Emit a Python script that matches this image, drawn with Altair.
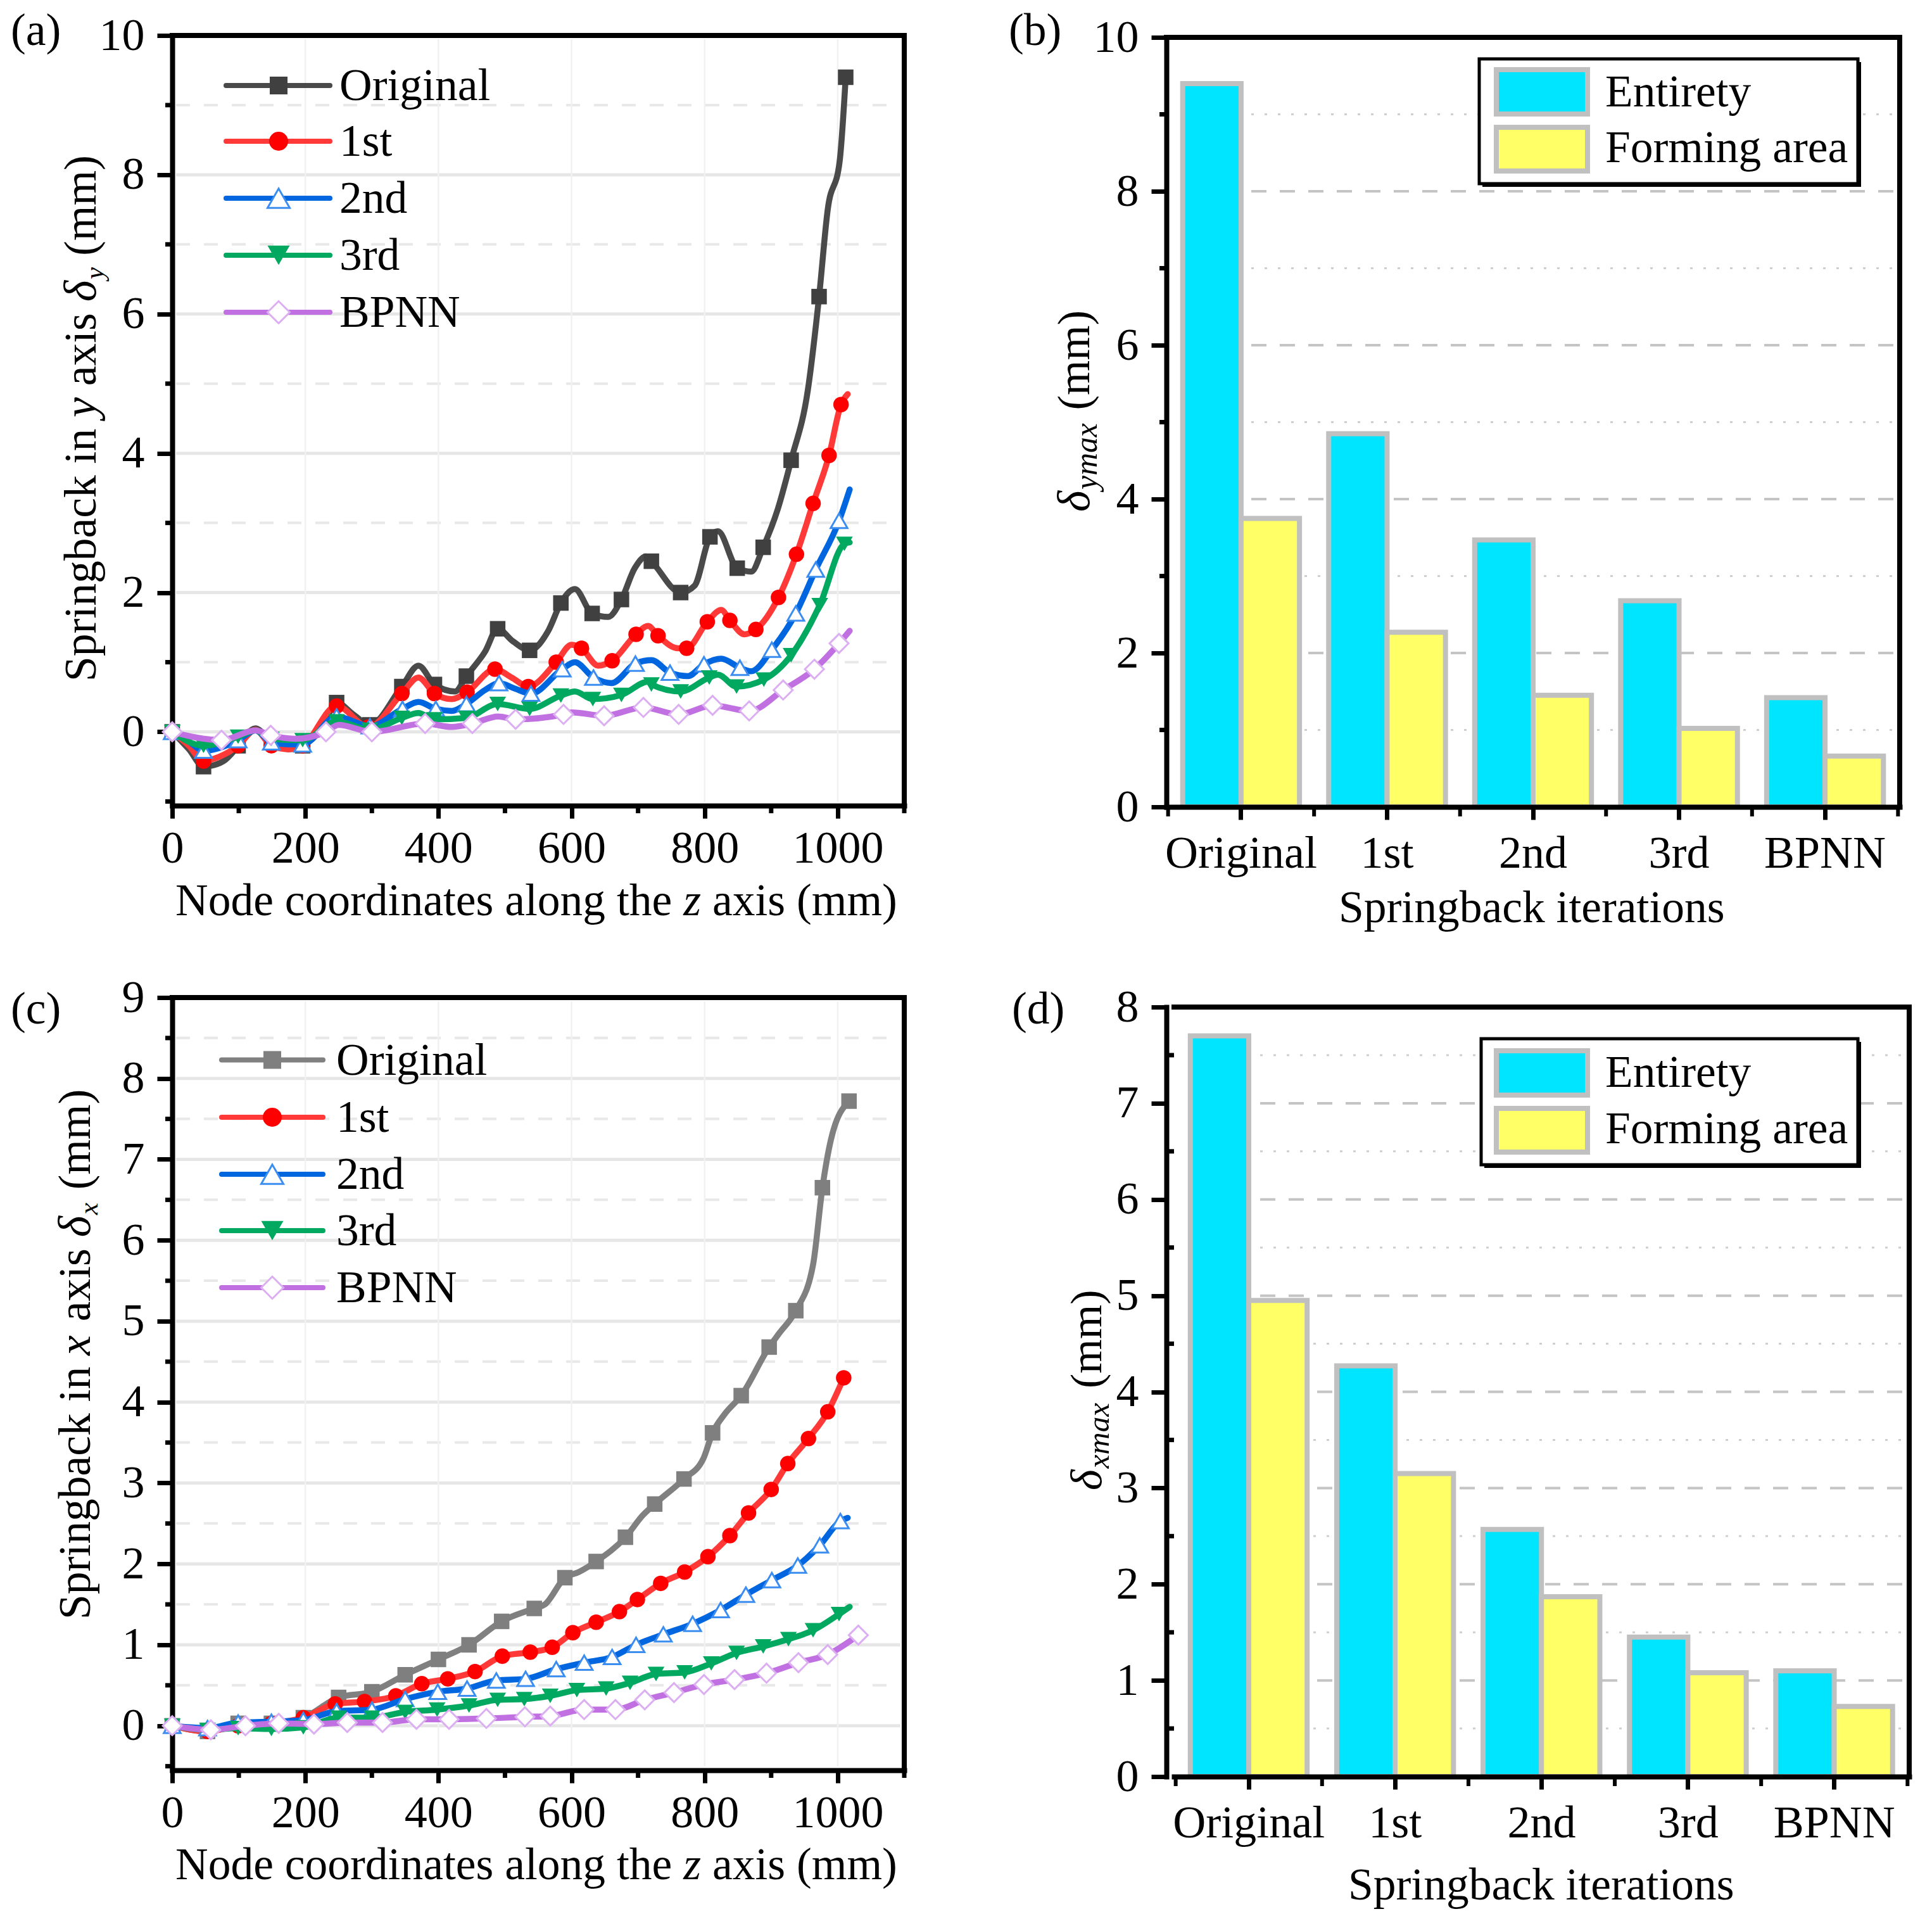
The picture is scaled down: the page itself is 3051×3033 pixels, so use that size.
import altair as alt
import pandas as pd

# ---------- panel (a) : springback in y ----------
A0_MX = [0,47,99,149,196,247,297,345,394,442,489,537,584,631,675,720,764,808,849,888,930,972,1012]
A0_MY = [0,-.5,-.2,-.15,-.2,.42,.1,.65,.68,.8,1.48,1.17,1.85,1.7,1.9,2.45,2.0,2.8,2.35,2.65,3.9,6.25,9.4]
A0_CX = [25,62,80,110,125,175,225,272,370,425,470,512,565,605,655,695,712,785,820,870,910,955,985,1003]
A0_CY = [-.25,-.48,-.4,-.05,.05,-.25,.05,.25,.95,.58,1.15,1.3,1.45,2.05,1.65,2.35,2.52,2.1,2.88,2.3,3.2,4.9,7.5,8.2]
A1_MX = [0,47,99,149,196,247,295,345,394,443,485,535,577,615,661,697,730,773,804,838,877,911,938,963,987,1005]
A1_MY = [0,-.42,-.2,-.2,-.2,.37,.07,.55,.55,.57,.9,.65,1.0,1.2,1.02,1.4,1.38,1.2,1.58,1.6,1.47,1.93,2.55,3.28,3.97,4.7]
A1_CX = [25,70,125,175,370,420,510,600,640,715,760,825,860,1015]
A1_CY = [-.2,-.36,.03,-.25,.78,.47,.78,1.25,.95,1.52,1.2,1.75,1.4,4.85]
A2_MX = [0,47,99,149,196,247,297,346,396,442,491,539,586,633,696,748,799,853,901,937,967,1002]
A2_MY = [0,-.27,-.12,-.15,-.18,.22,.08,.33,.33,.4,.7,.55,.9,.78,.98,.85,.97,.92,1.18,1.7,2.33,3.03]
A2_CX = [25,125,175,370,420,470,515,605,660,720,775,825,870,1018]
A2_CY = [-.14,.02,-.18,.43,.3,.6,.62,1.0,.7,1.03,.8,1.05,.87,3.48]
A3_MX = [0,47,99,149,196,247,297,345,394,442,489,537,584,632,675,720,764,807,848,889,930,973,1010]
A3_MY = [0,-.2,-.07,-.1,-.12,.15,.03,.2,.18,.2,.4,.33,.52,.47,.53,.68,.58,.78,.65,.75,1.1,1.82,2.7]
A3_CX = [125,370,605,715,820,1018]
A3_CY = [.02,.27,.58,.72,.82,2.72]
A4_MX = [0,74,148,231,300,380,451,516,588,649,708,761,812,867,918,965,1002]
A4_MY = [0,-.12,-.05,0,0,.12,.12,.18,.25,.23,.35,.25,.38,.3,.6,.9,1.27]
A4_CX = [35,125,185,250,420,490,600,1018]
A4_CY = [-.08,.02,-.1,.1,.07,.22,.28,1.45]

# ---------- panel (c) : springback in x ----------
C0_MX = [0,53,99,149,197,250,300,350,400,446,495,544,590,637,681,725,769,812,855,897,937,977,1017]
C0_MY = [0,-.07,.03,.03,.1,.35,.42,.63,.82,1.0,1.29,1.45,1.83,2.03,2.33,2.74,3.05,3.62,4.08,4.68,5.13,6.65,7.72]
C0_CX = [560,611,707,798,830,912,963,990]
C0_CY = [1.5,1.9,2.6,3.3,3.85,4.85,5.7,7.25]
C1_MX = [0,53,99,149,197,245,289,336,375,414,455,496,538,571,602,637,672,699,734,770,805,838,866,900,925,956,985,1009]
C1_MY = [0,-.07,0,.03,.1,.27,.3,.37,.52,.58,.67,.86,.91,.97,1.15,1.28,1.41,1.56,1.76,1.9,2.09,2.35,2.63,2.92,3.24,3.55,3.88,4.3]
C2_MX = [0,53,99,149,197,247,300,350,399,443,487,531,577,619,661,697,738,782,824,862,901,940,973,1004]
C2_MY = [0,-.03,.04,.05,.07,.18,.2,.33,.42,.46,.56,.58,.7,.78,.85,1.0,1.13,1.26,1.43,1.62,1.8,1.98,2.23,2.53]
C2_CX = [1015]
C2_CY = [2.57]
C3_MX = [0,53,99,149,197,250,300,350,398,446,489,529,568,608,652,688,727,770,810,848,888,926,963,1002]
C3_MY = [0,-.05,-.03,-.04,-.02,.1,.1,.17,.2,.25,.32,.33,.37,.44,.46,.53,.64,.66,.77,.9,.98,1.07,1.18,1.38]
C3_CX = [1018]
C3_CY = [1.47]
C4_MX = [0,58,110,160,213,263,316,367,416,472,530,568,619,666,710,754,799,845,893,941,985,1031]
C4_MY = [0,-.05,0,.03,.02,.04,.04,.08,.08,.09,.11,.12,.2,.2,.32,.41,.51,.57,.65,.78,.88,1.12]

# ---------- panels (b) and (d) : maxima ----------
ITERATIONS = ["Original", "1st", "2nd", "3rd", "BPNN"]
AREAS = ["Entirety", "Forming area"]
B_ENTIRE = [9.4, 4.85, 3.47, 2.68, 1.42]
B_FORMING = [3.75, 2.27, 1.45, 1.02, 0.66]
D_ENTIRE = [7.7, 4.27, 2.57, 1.45, 1.1]
D_FORMING = [4.95, 3.15, 1.87, 1.08, 0.73]

SERIES = ["Original", "1st", "2nd", "3rd", "BPNN"]
F = "Liberation Serif"
TICK, TITLE, LEG = 72, 71.5, 71.5
PI, PO = 0.2, 0.1115

W_TIMES = {" ":250,"S":556,"p":500,"r":333,"i":278,"n":500,"g":500,"b":500,"a":444,"c":444,"k":500,
           "y":444,"x":500,"s":389,"m":778,"(":333,")":333,"N":722,"o":500,"d":500,"e":444,"t":278,
           "l":278,"h":500,"z":389,"δ":494}


def tw(s, size):
    return sum(W_TIMES.get(c, 500) for c in s) * size / 1000


def blank():
    return pd.DataFrame({"a": [0]})


def txt(s, x, y, size=LEG, italic=False, align="left", angle=0):
    return alt.Chart(pd.DataFrame({"t": [s]})).mark_text(
        font=F, fontSize=size, fontStyle="italic" if italic else "normal", align=align,
        baseline="alphabetic", angle=angle, color="black"
    ).encode(text="t:N", x=alt.value(x), y=alt.value(y))


def runs(pieces, x, y, size, vertical=False):
    """pieces: (text, italic, scale, baseline shift)."""
    out, pos = [], 0
    for s, it, sc, sh in pieces:
        fs = size * sc
        lead = len(s) - len(s.lstrip(" "))
        body = s.strip(" ")
        if body:
            p = pos + tw(" " * lead, fs)
            if vertical:
                out.append(txt(body, x + sh, y - p, fs, it, angle=270))
            else:
                out.append(txt(body, x + p, y + sh, fs, it))
        pos += tw(s, fs)
    return out


def hline(x1, x2, y, color="black", w=8, dash=None, cap="butt"):
    kw = {"strokeDash": dash} if dash else {}
    return alt.Chart(blank()).mark_rule(color=color, strokeWidth=w, strokeCap=cap, **kw).encode(
        x=alt.value(x1), x2=alt.value(x2), y=alt.value(y))


def vline(x, y1, y2, color="black", w=8):
    return alt.Chart(blank()).mark_rule(color=color, strokeWidth=w, strokeCap="square").encode(
        x=alt.value(x), y=alt.value(y1), y2=alt.value(y2))


def rect(x1, x2, y1, y2, fill, stroke=None, sw=0):
    kw = {"stroke": stroke, "strokeWidth": sw} if stroke else {}
    return alt.Chart(blank()).mark_rect(fill=fill, **kw).encode(
        x=alt.value(x1), x2=alt.value(x2), y=alt.value(y1), y2=alt.value(y2))


def line_panel(series, colors, markers, w, h, ydom, ymaj, ymin, legx, legy, xtitle, ytitle, label):
    xs = alt.Scale(domain=[0, 1100], nice=False)
    ys = alt.Scale(domain=ydom, nice=False)
    xax = alt.Axis(title=None, values=[0, 200, 400, 600, 800, 1000], grid=False, labelFont=F, labelFontSize=TICK,
                   labelColor="black", tickSize=20, tickWidth=7, tickColor="black", domainColor="black",
                   domainWidth=8, domainCap="square", labelPadding=12, format="d", labelOverlap=False, labelFlush=False,
                   labelLimit=500)
    yax = alt.Axis(title=None, values=ymaj, grid=False, labelFont=F, labelFontSize=TICK, labelColor="black",
                   tickSize=24, tickWidth=7, tickColor="black", domainColor="black", domainWidth=8,
                   domainCap="square", labelPadding=20, format="d", labelOverlap=False, labelFlush=False,
                   labelLimit=500)
    L = []
    for v in ymaj:
        L.append(alt.Chart(pd.DataFrame({"v": [v]})).mark_rule(color="#e6e6e6", strokeWidth=5).encode(
            y=alt.Y("v:Q", scale=ys, axis=yax), x=alt.value(6), x2=alt.value(w - 6)))
    inner = [v for v in ymin if v > ydom[0] + 0.1]
    L.append(alt.Chart(pd.DataFrame({"v": inner})).mark_rule(color="#e8e8e8", strokeWidth=4, strokeDash=[22, 22]).encode(
        y=alt.Y("v:Q", scale=ys, axis=yax), x=alt.value(6), x2=alt.value(w - 6)))
    L.append(alt.Chart(pd.DataFrame({"v": [200, 400, 600, 800, 1000]})).mark_rule(color="#f1f1f1", strokeWidth=2.5).encode(
        x=alt.X("v:Q", scale=xs, axis=xax), y=alt.value(6), y2=alt.value(h - 6)))
    # minor ticks
    L.append(alt.Chart(pd.DataFrame({"v": ymin})).mark_rule(color="black", strokeWidth=7).encode(
        y=alt.Y("v:Q", scale=ys, axis=yax), x=alt.value(-11), x2=alt.value(0)))
    L.append(alt.Chart(pd.DataFrame({"v": [100, 300, 500, 700, 900, 1100]})).mark_rule(color="black", strokeWidth=7).encode(
        x=alt.X("v:Q", scale=xs, axis=xax), y=alt.value(h), y2=alt.value(h + 12)))
    L.append(hline(-4, w + 4, 0))
    L.append(vline(w, 0, h))
    for name, (mx, my, cx, cy), col, mk in zip(SERIES, series, colors, markers):
        pts = sorted(zip(mx + cx, my + cy))
        ldf = pd.DataFrame(pts, columns=["x", "y"])
        mdf = pd.DataFrame({"x": mx, "y": my})
        L.append(alt.Chart(ldf).mark_line(color=col, strokeWidth=9.5, interpolate="monotone", strokeCap="round", strokeJoin="round").encode(
            x=alt.X("x:Q", scale=xs, axis=xax),
            y=alt.Y("y:Q", scale=ys, axis=yax)))
        L.append(alt.Chart(mdf).mark_point(shape=mk["shape"], size=mk["size"], filled=True, fill=mk["fill"],
                                           stroke=mk["stroke"], strokeWidth=mk["sw"], opacity=1).encode(
            x=alt.X("x:Q", scale=xs, axis=xax), y=alt.Y("y:Q", scale=ys, axis=yax)))
    # legend
    for name, col, mk, yy in zip(SERIES, colors, markers, legy):
        L.append(hline(legx[0] + 4, legx[1] - 4, yy, col, 8, cap="round"))
        L.append(alt.Chart(blank()).mark_point(shape=mk["shape"], size=mk["lsize"], filled=True, fill=mk["fill"],
                                               stroke=mk["stroke"], strokeWidth=mk["sw"], opacity=1).encode(
            x=alt.value(legx[2]), y=alt.value(yy)))
        L.append(txt(name, legx[3], yy + 23, LEG))
    L += xtitle + ytitle + [label]
    return alt.layer(*L).properties(width=w, height=h)


def bar_panel(ent, form, w, h, xr, yr, ydom, ymaj, ymin, gx, box, swatch, texty, xtitle, ytitle, label):
    ys = alt.Scale(domain=ydom, nice=False, range=yr)
    xs = alt.Scale(domain=ITERATIONS, range=xr, paddingInner=PI, paddingOuter=PO)
    xax = alt.Axis(title=None, grid=False, labelFont=F, labelFontSize=TICK, labelColor="black", labelAngle=0, tickSize=20,
                   tickWidth=7, tickColor="black", domainColor="black", domainWidth=8, domainCap="square", labelPadding=18,
                   labelOverlap=False, labelFlush=False, zindex=1, labelLimit=500)
    yax = alt.Axis(title=None, values=ymaj, grid=False, labelFont=F, labelFontSize=TICK, labelColor="black", tickSize=24,
                   tickWidth=7, tickColor="black", domainColor="black", domainWidth=8, domainCap="square", labelPadding=20,
                   format="d", labelOverlap=False, labelFlush=False, zindex=1, labelLimit=500)
    L = []
    L.append(alt.Chart(pd.DataFrame({"v": ymin})).mark_rule(color="#cfcfcf", strokeWidth=3, strokeDash=[4, 17]).encode(
        y=alt.Y("v:Q", scale=ys, axis=yax), x=alt.value(gx[0]), x2=alt.value(gx[1])))
    L.append(alt.Chart(pd.DataFrame({"v": [v for v in ymaj if v not in (ydom[0], ydom[1])]})).mark_rule(
        color="#c4c4c4", strokeWidth=4, strokeDash=[24, 21]).encode(
        y=alt.Y("v:Q", scale=ys, axis=yax), x=alt.value(gx[0]), x2=alt.value(gx[1])))
    df = pd.DataFrame({"it": ITERATIONS * 2, "area": [AREAS[0]] * 5 + [AREAS[1]] * 5, "v": ent + form})
    L.append(alt.Chart(df).mark_bar(stroke="#c0c0c0", strokeWidth=8).encode(
        x=alt.X("it:N", sort=ITERATIONS, scale=xs, axis=xax),
        xOffset=alt.XOffset("area:N", sort=AREAS, scale=alt.Scale(paddingInner=0, paddingOuter=0)),
        y=alt.Y("v:Q", scale=ys, axis=yax),
        color=alt.Color("area:N", scale=alt.Scale(domain=AREAS, range=["#00e5ff", "#ffff66"]), legend=None)))
    # minor ticks
    L.append(alt.Chart(pd.DataFrame({"v": ymin})).mark_rule(color="black", strokeWidth=7).encode(
        y=alt.Y("v:Q", scale=ys, axis=yax), x=alt.value(xr[0] - 11), x2=alt.value(xr[0])))
    step = (xr[1] - xr[0]) / (5 - PI + 2 * PO)
    first = xr[0] + step * (PO + 0.5 * (1 - PI))
    for i in range(-1, 5):
        px = first + step * (i + 0.5)
        L.append(vline(px, h, h + 12, w=6))
    L.append(hline(xr[0] - 4, xr[1] + 4, yr[1]))
    L.append(vline(xr[1], yr[1], h))
    # legend box
    L.append(rect(box[0] + 5, box[1] + 5, box[2] + 5, box[3] + 5, "black"))
    L.append(rect(box[0], box[1], box[2], box[3], "white", "black", 5))
    L.append(rect(swatch[0], swatch[1], swatch[2], swatch[3], "#00e5ff", "#c0c0c0", 8))
    L.append(rect(swatch[0], swatch[1], swatch[4], swatch[5], "#ffff66", "#c0c0c0", 8))
    L.append(txt(AREAS[0], swatch[1] + 28, texty[0], LEG))
    L.append(txt(AREAS[1], swatch[1] + 28, texty[1], LEG))
    L += xtitle + ytitle + [label]
    return alt.layer(*L).properties(width=w, height=h)


def mk(shape, size, lsize, fill, stroke, sw):
    return dict(shape=shape, size=size, lsize=lsize, fill=fill, stroke=stroke, sw=sw)


MARKERS = [
    mk("square", 600, 784, "#404040", "#404040", 0),
    mk("circle", 600, 900, "#ff0000", "#ff0000", 0),
    mk("triangle-up", 700, 1225, "#ffffff", "#3b8df0", 3),
    mk("triangle-down", 700, 1225, "#00a860", "#00a860", 0),
    mk("diamond", 900, 1225, "#ffffff", "#dcaef2", 3),
]
MARKERS_C = [dict(MARKERS[0], fill="#7f7f7f", stroke="#7f7f7f")] + MARKERS[1:]

COL_A = ["#4a4a4a", "#ff3838", "#0066e0", "#00a860", "#c070e0"]
COL_C = ["#808080", "#ff3838", "#0066e0", "#00a860", "#c070e0"]

ztitle = [("Node coordinates along the ", False, 1, 0), ("z", True, 1, 0), (" axis (mm)", False, 1, 0)]

pa = line_panel(
    [(A0_MX, A0_MY, A0_CX, A0_CY), (A1_MX, A1_MY, A1_CX, A1_CY), (A2_MX, A2_MY, A2_CX, A2_CY),
     (A3_MX, A3_MY, A3_CX, A3_CY), (A4_MX, A4_MY, A4_CX, A4_CY)],
    COL_A, MARKERS, 1156, 1216, [-1.06, 10], [0, 2, 4, 6, 8, 10], [-1, 1, 3, 5, 7, 9],
    (81, 253, 168, 264), [79, 167, 257, 347, 437],
    runs(ztitle, 5, 1389, TITLE),
    runs([("Springback in ", False, 1, 0), ("y", True, 1, 0), (" axis ", False, 1, 0), ("δ", True, 1, 0),
          ("y", True, .6, 12), (" (mm)", False, 1, 0)], -121, 1020, TITLE, True),
    txt("(a)", -255, 15))

pc = line_panel(
    [(C0_MX, C0_MY, C0_CX, C0_CY), (C1_MX, C1_MY, [], []), (C2_MX, C2_MY, C2_CX, C2_CY),
     (C3_MX, C3_MY, C3_CX, C3_CY), (C4_MX, C4_MY, [], [])],
    COL_C, MARKERS_C, 1156, 1220, [-.55, 9], list(range(0, 10)), [v + .5 for v in range(-1, 9)],
    (74, 242, 158, 259), [98.5, 189, 279, 368, 458],
    runs(ztitle, 5, 1392, TITLE),
    runs([("Springback in ", False, 1, 0), ("x", True, 1, 0), (" axis ", False, 1, 0), ("δ", True, 1, 0),
          ("x", True, .6, 12), (" (mm)", False, 1, 0)], -130, 982, TITLE, True),
    txt("(c)", -255, 41))

pb = bar_panel(
    B_ENTIRE, B_FORMING, 1175, 1218, [0, 1158], [1218, 3], [0, 10], [0, 2, 4, 6, 8, 10], [1, 3, 5, 7, 9],
    (134, 1148), (494, 1092, 37, 234), (521, 665, 54, 124, 145, 214), (112, 200),
    runs([("Springback iterations", False, 1, 0)], 272, 1400, TITLE),
    runs([("δ", True, 1, 0), ("ymax", True, .7, 12), (" (mm)", False, 1, 0)], -122, 752, 71, True),
    txt("(b)", -249, 15))

pd_ = bar_panel(
    D_ENTIRE, D_FORMING, 1175, 1230, [12, 1173], [1230, 15], [0, 8], list(range(0, 9)), [v + .5 for v in range(0, 8)],
    (148, 1164), (497, 1092, 65, 264), (521, 665, 84, 154, 175, 244), (140.5, 229.5),
    runs([("Springback iterations", False, 1, 0)], 287, 1424, TITLE),
    runs([("δ", True, 1, 0), ("xmax", True, .7, 12), (" (mm)", False, 1, 0)], -103, 778, 70, True),
    txt("(d)", -244, 41))

chart = alt.concat(pa, pb, pc, pd_, columns=2, spacing=alt.RowColnumber(row=301, column=414), bounds="flush").properties(
    padding={"left": 9, "top": 6, "right": 4, "bottom": 4}
).configure_view(strokeWidth=0).resolve_scale(color="independent")

chart.save("out.html", embed_options={"renderer": "svg", "actions": False})
